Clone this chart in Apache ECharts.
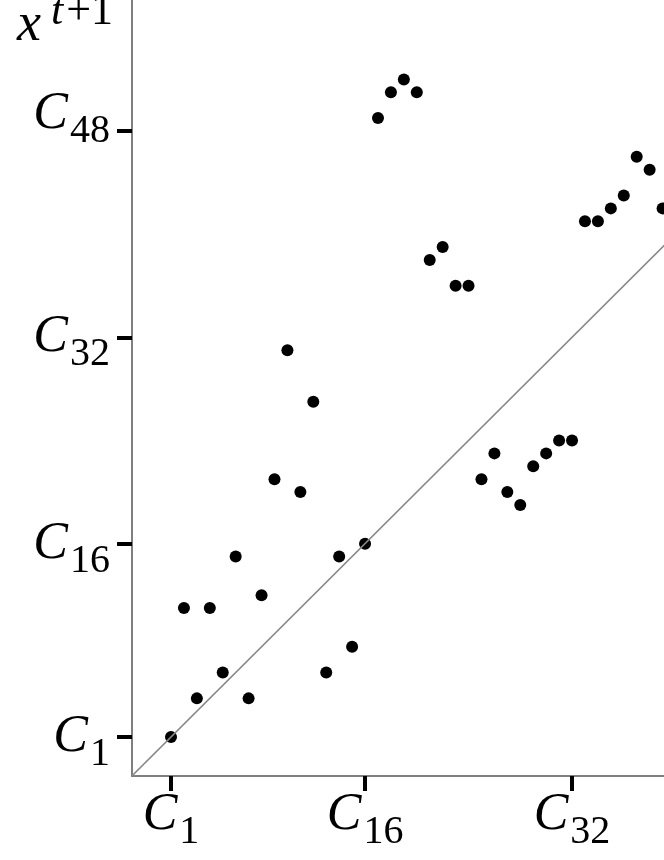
<!DOCTYPE html>
<html>
<head>
<meta charset="utf-8">
<script src="https://cdn.jsdelivr.net/npm/echarts@6/dist/echarts.min.js"></script>
<style>
  html, body { margin: 0; padding: 0; background: #fff; }
  #chart { width: 664px; height: 860px; }
</style>
</head>
<body>
<div id="chart"></div>
<script>
// 数据：x^t 与 x^{t+1} 的对应关系
const xValues = [1, 2, 3, 4, 5, 6, 7, 8, 9, 10, 11, 12, 13, 14, 15, 16, 17, 18, 19, 20,
  21, 22, 23, 24, 25, 26, 27, 28, 29, 30, 31, 32, 33, 34, 35, 36, 37, 38, 39];
const yValues = [1, 11, 4, 11, 6, 15, 4, 12, 21, 31, 20, 27, 6, 15, 8, 16, 49, 51, 52, 51,
  38, 39, 36, 36, 21, 23, 20, 19, 22, 23, 24, 24, 41, 41, 42, 43, 46, 45, 42];
const xTicks = [1, 16, 32];
const yTicks = [1, 16, 32, 48];
const diagLine = [[-3, -3], [60, 60]]; // y = x 参考线

const chart = echarts.init(document.getElementById('chart'));

const serif = '"Liberation Serif", "DejaVu Serif", serif';
// C 顶对齐，下标靠 lineHeight 往下压
const labelRich = {
  c: { fontFamily: serif, fontStyle: 'italic', fontSize: 52, lineHeight: 52, verticalAlign: 'top', color: '#000' },
  s: { fontFamily: serif, fontSize: 40, lineHeight: 86, verticalAlign: 'middle', color: '#000', padding: [0, 0, 0, 2] },
  gap: { fontSize: 10, lineHeight: 35 }
};
const fmt = v => '{c|C}{s|' + v + '}';
// y轴上面垫一行让 C 对准刻度；原图中 C48 的标签偏高，不垫
const fmtY = v => v === 48 ? fmt(v) : '{gap| }\n' + fmt(v);

const option = {
  animation: false,
  title: {
    left: 17,
    top: -10,
    padding: 0,
    text: '{x|x}{t|t}{p|+1}',
    textStyle: {
      fontWeight: 'normal',
      rich: {
        x: { fontFamily: serif, fontStyle: 'italic', fontWeight: 'normal', fontSize: 54, lineHeight: 72, verticalAlign: 'middle', color: '#000' },
        t: { fontFamily: serif, fontStyle: 'italic', fontWeight: 'normal', fontSize: 44, lineHeight: 44, verticalAlign: 'top', color: '#000', padding: [0, 3, 0, 10] },
        p: { fontFamily: serif, fontWeight: 'normal', fontSize: 44, lineHeight: 44, verticalAlign: 'top', color: '#000' }
      }
    }
  },
  grid: { left: 132, right: 0, top: 0, bottom: 84 },
  xAxis: {
    type: 'value',
    min: -2.015,
    max: 39.11,
    splitLine: { show: false },
    axisLine: { onZero: false, lineStyle: { color: '#555', width: 1.5 } },
    axisTick: { length: 15, lineStyle: { color: '#000', width: 4 }, customValues: xTicks },
    axisLabel: { customValues: xTicks, formatter: fmt, rich: labelRich, margin: 13 }
  },
  yAxis: {
    type: 'value',
    min: -2.02,
    max: 58.16,
    splitLine: { show: false },
    axisLine: { onZero: false, lineStyle: { color: '#555', width: 1.5 } },
    axisTick: { length: 15, lineStyle: { color: '#000', width: 4 }, customValues: yTicks },
    axisLabel: { customValues: yTicks, formatter: fmtY, rich: labelRich, margin: 22 }
  },
  series: [
    {
      type: 'line',
      data: diagLine,
      symbol: 'none',
      clip: true,
      lineStyle: { color: '#888', width: 1.5 },
      silent: true
    },
    {
      type: 'scatter',
      data: xValues.map((x, i) => [x, yValues[i]]),
      symbolSize: 12,
      itemStyle: { color: '#000', opacity: 1 },
      clip: false
    }
  ]
};

chart.setOption(option);
</script>
</body>
</html>
